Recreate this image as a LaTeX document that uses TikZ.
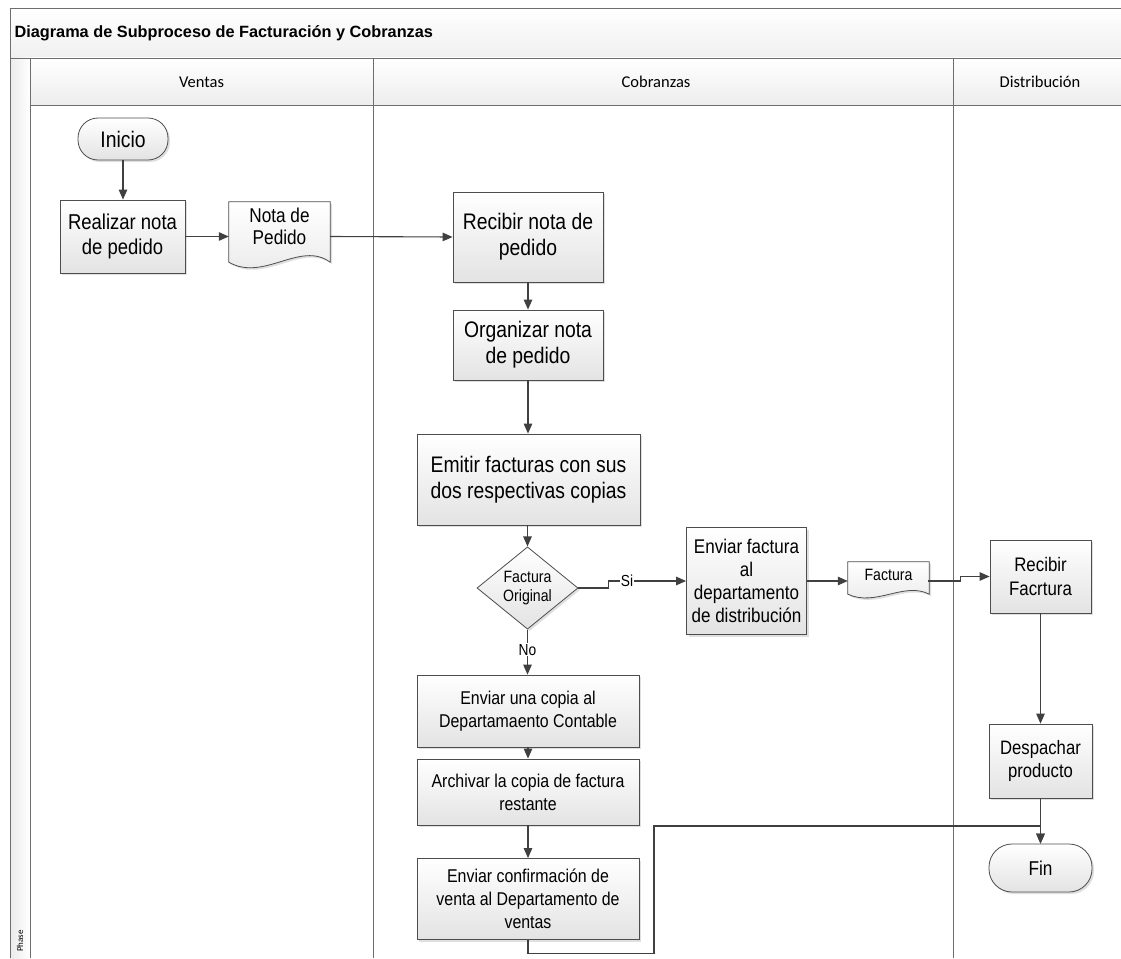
\documentclass[tikz,border=0pt]{standalone}
\usepackage{fontspec}
\setmainfont{Liberation Sans}
\newfontfamily\narrowf[FakeStretch=0.86]{Liberation Sans}
\newfontfamily\headf{Carlito}
\usetikzlibrary{arrows.meta,shapes.geometric,shadows,calc}
\definecolor{edgec}{HTML}{4D4D4D}
\definecolor{lanec}{HTML}{6E6E6E}
\definecolor{arrc}{HTML}{404040}
\tikzset{
  shadowed/.style={drop shadow={opacity=0.25,shadow xshift=2pt,shadow yshift=-2pt}},
  procbox/.style={draw=edgec,line width=0.8pt,top color=white,bottom color=gray!22,shadowed,
     align=center,inner sep=2pt,font=\narrowf\fontsize{22.5}{26}\selectfont},
  smallbox/.style={procbox,font=\narrowf\fontsize{18.5}{23}\selectfont},
  termbox/.style={procbox,rounded corners=20pt},
  decbox/.style={diamond,draw=edgec,line width=0.8pt,top color=white,bottom color=gray!22,shadowed,
     align=center,inner sep=0pt,font=\narrowf\fontsize{16.4}{19}\selectfont},
  doctext/.style={align=center,inner sep=0pt},
  docshape/.style={draw=edgec,line width=0.8pt,top color=white,bottom color=gray!18,shadowed},
  flow/.style={draw=arrc,line width=1.1pt,-{Triangle[length=10pt,width=8.5pt]}},
  lane/.style={draw=lanec,line width=0.9pt},
  lbl/.style={fill=white,inner sep=1pt,font=\narrowf\fontsize{16}{19}\selectfont},
  headtxt/.style={font=\headf\fontsize{16.5}{19}\selectfont},
}
\begin{document}
\begin{tikzpicture}[x=1pt,y=-1pt]
\useasboundingbox (0,0) rectangle (1121,958);
\fill[white] (0,0) rectangle (1121,958);
% pool frame
\shade[top color=white,bottom color=gray!12] (10,8) rectangle (1121,58);
\shade[left color=gray!16,right color=white] (10,58) rectangle (30,958);
\shade[top color=white,bottom color=gray!14] (30,58) rectangle (1121,105);
\draw[lane] (1121,8) -- (10,8) -- (10,958);
\draw[lane] (10,58) -- (1121,58);
\draw[lane] (30,58) -- (30,958);
\draw[lane] (30,105) -- (1121,105);
\draw[lane] (373,58) -- (373,958);
\draw[lane] (953,58) -- (953,958);
\node[anchor=west,font=\bfseries\fontsize{16.3}{19}\selectfont] (title) at (11,33) {Diagrama de Subproceso de Facturación y Cobranzas};
\node[headtxt] (hv) at (201.5,82) {Ventas};
\node[headtxt] (hc) at (656,82) {Cobranzas};
\node[headtxt] (hd) at (1040,82) {Distribución};
\node[rotate=90,anchor=west,font=\headf\fontsize{9}{10}\selectfont,inner sep=0pt] (phase) at (20,952) {Phase};

% Ventas
\node[termbox,minimum width=90pt,minimum height=42pt] (inicio) at (123,139) {Inicio};
\node[procbox,minimum width=125pt,minimum height=73pt,font=\narrowf\fontsize{21.5}{25}\selectfont] (real) at (122.5,236.5) {Realizar nota\\de pedido};
\node[doctext,minimum width=101pt,minimum height=46pt] (nota) at (279.5,225) {};
\path[docshape] (nota.north west) -- (nota.north east) -- ($(nota.south east)+(0,14)$)
   .. controls ($(nota.south east)+(-30,-8)$) and ($(nota.south west)+(35,34)$) .. ($(nota.south west)+(0,14)$) -- cycle;
\node[doctext,font=\narrowf\fontsize{20}{22}\selectfont] (notat) at ($(nota)+(0,1)$) {Nota de\\Pedido};

% Cobranzas
\node[procbox,minimum width=150pt,minimum height=90pt] (rec) at (528,237) {Recibir nota de\\pedido};
\node[procbox,minimum width=150pt,minimum height=70pt] (org) at (528,345) {Organizar nota\\de pedido};
\node[procbox,minimum width=223pt,minimum height=91pt] (emi) at (528.5,479.5) {Emitir facturas con sus\\dos respectivas copias};
\node[decbox,minimum width=101pt,minimum height=71pt] (dec) at (527.5,588) {Factura\\Original};
\node[procbox,minimum width=120pt,minimum height=107pt,font=\narrowf\fontsize{19.8}{23}\selectfont] (envf) at (746.5,581) {Enviar factura\\al\\departamento\\de distribución};
\node[doctext,minimum width=81pt,minimum height=25pt] (fact) at (888.5,574.5) {};
\path[docshape] (fact.north west) -- (fact.north east) -- ($(fact.south east)+(0,7)$)
   .. controls ($(fact.south east)+(-25,-6)$) and ($(fact.south west)+(28,20)$) .. ($(fact.south west)+(0,7)$) -- cycle;
\node[doctext,font=\narrowf\fontsize{16.4}{19}\selectfont] (factt) at (fact) {Factura};
\node[smallbox,minimum width=222pt,minimum height=72pt] (copia) at (528,711) {Enviar una copia al\\Departamaento Contable};
\node[smallbox,minimum width=222pt,minimum height=66pt] (arch) at (528,792) {Archivar la copia de factura\\restante};
\node[smallbox,minimum width=222pt,minimum height=81pt] (conf) at (528,899) {Enviar confirmación de\\venta al Departamento de\\ventas};

% Distribucion
\node[procbox,minimum width=101pt,minimum height=73pt,font=\narrowf\fontsize{19.6}{24}\selectfont] (recf) at (1040.5,576.5) {Recibir\\Facrtura};
\node[procbox,minimum width=103pt,minimum height=74pt,font=\narrowf\fontsize{19.4}{23}\selectfont] (desp) at (1040.5,761) {Despachar\\producto};
\node[termbox,minimum width=103pt,minimum height=48pt,rounded corners=23pt,font=\narrowf\fontsize{20}{24}\selectfont] (fin) at (1040.5,868) {Fin};

% connectors
\draw[flow] (inicio.south) -- (inicio.south |- real.north);
\draw[flow] (real.east) -- (real.east -| nota.west);
\draw[flow] (real.east -| nota.east) -- (rec.west);
\draw[flow] (rec.south) -- (org.north);
\draw[flow] (org.south) -- (org.south |- emi.north);
\draw[flow] (emi.south -| dec.north) -- (dec.north);
\draw[flow] (dec.south) -- node[lbl,pos=0.45] (no) {No} (dec.south |- copia.north);
\draw[flow] (dec.east) -- ++(30,0) |- node[lbl,pos=0.62] (si) {Si} (envf.west);
\draw[flow] (envf.east) -- (envf.east -| fact.west);
\coordinate (fout) at ($(envf.east -| fact.east)+(-1,0)$);
\draw[flow] (fout) -- ++(32,0) |- (recf.west);
\draw[flow] (copia.south) -- (arch.north);
\draw[flow] (arch.south) -- (conf.north);
\draw[flow] (recf.south) -- (desp.north);
\draw[flow] (desp.south) -- (fin.north);
\coordinate (c1) at (654,826);
\draw[flow] (conf.south) -- ++(0,14) -| (c1) -- (c1 -| fin.north) -- (fin.north);
\end{tikzpicture}
\end{document}
